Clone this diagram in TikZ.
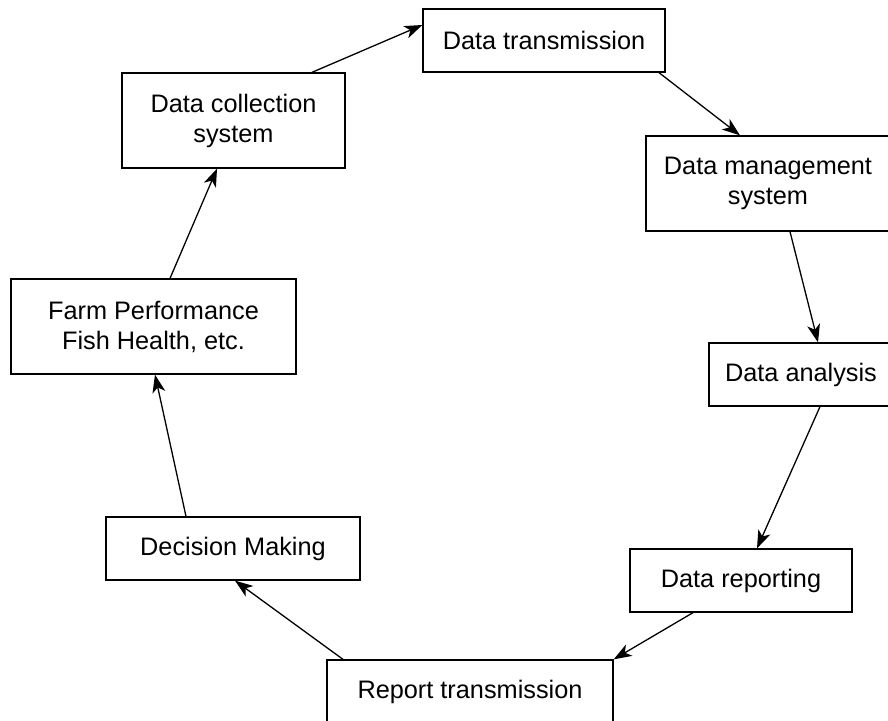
\documentclass[tikz,border=0pt]{standalone}
\usepackage{fontspec}
\setmainfont{Liberation Sans}
\usepackage{tikz}
\usetikzlibrary{arrows.meta}
\tikzset{block style/.style={
		draw=black,
		line width=1.3pt,
		fill=white,
		text=black,
		rectangle,
		align=center,
		inner sep=0pt,
		minimum height=63pt,
		font=\fontsize{25.3}{30}\selectfont,
	},
	tall style/.style={
		block style,
		minimum height=95pt,
	},
	link style/.style={
		draw=black,
		line width=1.3pt,
		-{Stealth[length=18pt,width=13pt,inset=5pt]}
	}
}

\begin{document}
\begin{tikzpicture}[x=1pt,y=-1pt,node distance=200pt]
	\useasboundingbox (0,0) rectangle (888,720);

	\node[tall style, minimum width=285pt] (Farm) at (153.5,326.5) {Farm Performance\\Fish Health, etc.};

	\node[tall style, minimum width=223pt, above of=Farm, xshift=80pt, yshift=6pt] (Collection) {Data collection\\system};

	\node[block style, minimum width=242pt, right of=Collection, xshift=110.5pt, yshift=80pt] (Transmission) {Data transmission};

	\node[tall style, minimum width=244pt, right of=Transmission, xshift=24pt, yshift=-143pt] (Management) {Data management\\system};

	\node[block style, minimum width=184pt, below of=Management, xshift=33pt, yshift=9pt] (Analysis) {Data analysis};

	\node[block style, minimum width=222pt, below of=Analysis, xshift=-60pt, yshift=-6pt] (Reporting) {Data reporting};

	\node[block style, minimum width=286pt, left of=Reporting, xshift=-71pt, yshift=-111pt] (Report) {Report transmission};

	\node[block style, minimum width=254pt, left of=Report, xshift=-37pt, yshift=143pt] (Decision) {Decision Making};

	% cycle
	\draw[link style] ([xshift=78.5pt]Collection.north) -- ([yshift=15.5pt]Transmission.west);
	\draw[link style] ([xshift=115pt]Transmission.south) -- ([xshift=-28pt]Management.north);
	\draw[link style] ([xshift=22pt]Management.south) -- ([xshift=17pt]Analysis.north);
	\draw[link style] ([xshift=19pt]Analysis.south) -- ([xshift=16pt]Reporting.north);
	\draw[link style] ([xshift=-48pt]Reporting.south) -- (Report.north east);
	\draw[link style] ([xshift=-127pt]Report.north) -- ([xshift=2pt]Decision.south);
	\draw[link style] ([xshift=-47pt]Decision.north) -- ([xshift=1.5pt]Farm.south);
	\draw[link style] ([xshift=16.5pt]Farm.north) -- ([xshift=-16.5pt]Collection.south);
\end{tikzpicture}
\end{document}
